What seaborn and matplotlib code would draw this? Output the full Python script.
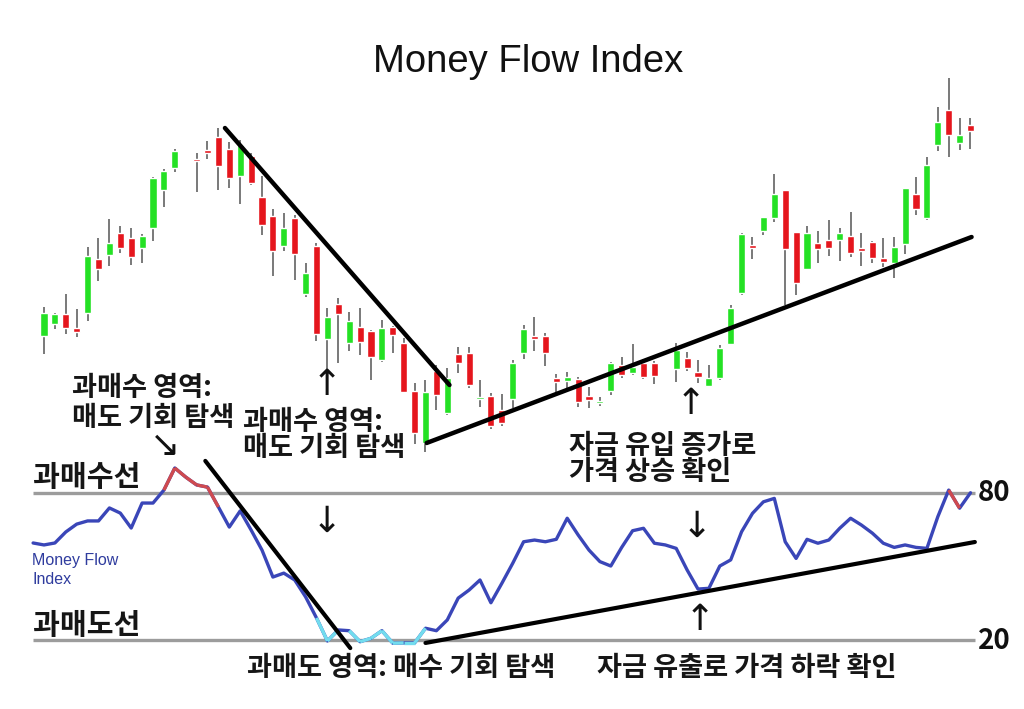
import numpy as np
import pandas as pd
import matplotlib
matplotlib.use('Agg')
import matplotlib.pyplot as plt
import seaborn as sns

nan = np.nan

# candle data (one slot per session, two empty slots)
candle_idx = list(range(86))
open_ = [164, 176, 186, 172, 187, 241, 245, 267, 262, 252, 272, 310, 332, nan, 341, 350, 363, 351, 324, 344,
         303, 284, 254, 282, 206, 254, 161, 196, 157, 173, 169, 140, 173, 157, 109, 57, 129, 87, 146, 147,
         101, 104, 90, 101, 147, 164, 164, 122, 119, 121, 104, 97, 109, 135, 127, 137, 137, nan, 131, 142,
         128, 114, 122, 156, 207, 255, 269, 282, 310, 268, 231, 257, 260, 260, 264, 252, 258, 242, 237, 256,
         306, 282, 355, 390, 357, 375]
high = [193, 187, 206, 191, 253, 262, 281, 274, 272, 266, 323, 331, 351, nan, 347, 359, 372, 358, 360, 347,
        324, 291, 287, 285, 237, 257, 192, 202, 188, 192, 170, 180, 174, 162, 117, 120, 135, 132, 153, 153,
        120, 107, 106, 140, 175, 183, 167, 126, 128, 123, 113, 103, 138, 143, 156, 141, 139, nan, 157, 148,
        140, 135, 155, 195, 267, 263, 283, 326, 310, 268, 274, 269, 280, 272, 288, 267, 259, 262, 263, 312,
        323, 343, 393, 422, 382, 382]
low = [146, 171, 166, 163, 179, 219, 234, 247, 235, 237, 259, 293, 328, nan, 308, 341, 310, 312, 296, 315,
       265, 224, 249, 220, 203, 159, 127, 137, 149, 145, 120, 138, 147, 107, 56, 48, 90, 85, 127, 112,
       93, 71, 74, 92, 141, 149, 134, 108, 110, 93, 92, 94, 105, 122, 125, 121, 116, nan, 118, 129,
       117, 113, 120, 155, 205, 241, 265, 278, 195, 205, 230, 237, 244, 239, 243, 234, 237, 233, 222, 246,
       285, 280, 349, 343, 350, 351]
close = [187, 186, 172, 168, 244, 231, 257, 252, 243, 264, 322, 329, 349, nan, 339, 347, 334, 322, 355, 317,
         275, 249, 272, 246, 227, 166, 183, 186, 179, 158, 143, 172, 165, 108, 67, 108, 105, 122, 137, 115,
         103, 74, 77, 137, 171, 161, 147, 118, 123, 98, 100, 99, 137, 125, 133, 123, 124, nan, 150, 132,
         123, 122, 152, 192, 266, 252, 283, 306, 251, 217, 267, 251, 252, 267, 247, 249, 242, 238, 253, 312,
         291, 335, 378, 365, 365, 369]

# money flow index
mfi_idx = list(range(-1, 86))
mfi = [59.6, 58.8, 59.6, 64.1, 67.3, 68.6, 68.6, 73.9, 71.8, 65.7, 75.9, 75.9, 81.2, 90.2, 86.5, 83.3,
       82.4, 74.3, 66.1, 72.7, 64.9, 56.7, 45.7, 47.3, 44.5, 37.6, 29.0, 19.6, 24.1, 23.8, 19.3, 20.7,
       23.8, 18.7, 18.8, 18.8, 24.8, 23.8, 28.2, 37.1, 40.4, 44.5, 35.2, 43.1, 51.3, 60.1, 60.8, 60.1,
       61.1, 69.7, 62.9, 56.7, 52.0, 50.2, 57.8, 64.6, 65.6, 59.5, 58.8, 57.4, 48.6, 40.8, 41.1, 50.2,
       52.7, 64.2, 71.7, 76.4, 77.8, 60.1, 53.3, 61.1, 59.5, 60.8, 65.6, 69.7, 66.9, 63.6, 59.5, 57.8,
       58.8, 57.8, 57.4, 70.3, 81.2, 73.8, 80.1]
overbought, oversold = 80, 20
level_span = [-1.0, 85.4]

# trend lines
price_down_x, price_down_y = [16.6, 37.2], [372, 115]
price_up_x, price_up_y = [35.1, 85.1], [57, 263]
mfi_down_x, mfi_down_y = [14.8, 28.1], [93.1, 16.7]
mfi_up_x, mfi_up_y = [35.0, 85.4], [18.8, 60.0]

sns.set_theme(style='white')
plt.rcParams['font.family'] = ['Noto Sans CJK KR', 'DejaVu Sans']

fig = plt.figure(figsize=(10.24, 7.09), dpi=100)
fig.patch.set_facecolor('white')
xlim = (-44 / 10.9, (1024 - 44) / 10.9)

# price panel
ax = fig.add_axes([0, 0, 1, 1])
ax.set_xlim(*xlim)
ax.set_ylim(-209, 500)
ax.axis('off')

df = pd.DataFrame({'idx': candle_idx, 'open': open_, 'high': high, 'low': low, 'close': close}).dropna()
rising = df['close'] >= df['open']
ax.vlines(df['idx'], df['low'], df['high'], color='#555555', lw=1.1, zorder=1)
ax.bar(df['idx'], (df['close'] - df['open']).abs().clip(lower=2.5),
       bottom=np.minimum(df['open'], df['close']), width=0.66,
       color=np.where(rising, '#24e124', '#e5161d'), zorder=2)
sns.lineplot(x=price_down_x, y=price_down_y, ax=ax, color='black', lw=3.2, zorder=3)
sns.lineplot(x=price_up_x, y=price_up_y, ax=ax, color='black', lw=3.2, zorder=3)

# MFI panel
ax2 = fig.add_axes([0, 0, 1, 1])
ax2.set_xlim(*xlim)
ax2.set_ylim(-8.16, 281.22)
ax2.axis('off')
ax2.hlines([overbought, oversold], level_span[0], level_span[1], color='#9c9c9c', lw=2.4, zorder=1)
sns.lineplot(x=mfi_idx, y=mfi, ax=ax2, color='#3a46b8', lw=2.4, zorder=2)
for k in range(len(mfi) - 1):
    seg_c = None
    if mfi[k] >= overbought:
        seg_c = '#cf4a4f'
    elif min(mfi[k], mfi[k + 1]) <= oversold + 1:
        seg_c = '#72dcee'
    if seg_c:
        ax2.plot(mfi_idx[k:k + 2], mfi[k:k + 2], color=seg_c, lw=2.4, zorder=3,
                 solid_capstyle='butt')
sns.lineplot(x=mfi_down_x, y=mfi_down_y, ax=ax2, color='black', lw=3.0, zorder=4)
sns.lineplot(x=mfi_up_x, y=mfi_up_y, ax=ax2, color='black', lw=3.0, zorder=4)

# text layer in pixel units
ax3 = fig.add_axes([0, 0, 1, 1])
ax3.set_xlim(0, 1024)
ax3.set_ylim(709, 0)
ax3.axis('off')

ax3.text(528, 62, 'Money Flow Index', fontsize=27.5, family=['Liberation Sans', 'DejaVu Sans'],
         ha='center', va='center', color='#111111')

kw = dict(fontsize=19.6, fontweight='bold', color='#161616', va='center', ha='left')
ax3.text(72, 388, '과매수 영역:', **kw)
ax3.text(72, 418, '매도 기회 탐색', **kw)
ax3.text(243, 422, '과매수 영역:', **kw)
ax3.text(243, 448, '매도 기회 탐색', **kw)
ax3.text(569, 446, '자금 유입 증가로', **kw)
ax3.text(569, 472, '가격 상승 확인', **kw)
ax3.text(247, 668, '과매도 영역: 매수 기회 탐색', **kw)
ax3.text(597, 668, '자금 유출로 가격 하락 확인', **kw)

side_kw = dict(kw, fontsize=21)
ax3.text(33, 477, '과매수선', **side_kw)
ax3.text(33, 625, '과매도선', **side_kw)

num_kw = dict(fontsize=20, fontweight='bold', color='#111111', va='center', ha='left')
ax3.text(978, 493, '80', **num_kw)
ax3.text(978, 641, '20', **num_kw)

ax3.text(32, 560, 'Money Flow', fontsize=11.5, color='#2f3c9e', va='center', ha='left',
         family=['Liberation Sans', 'DejaVu Sans'])
ax3.text(32, 580, 'Index', fontsize=11.5, color='#2f3c9e', va='center', ha='left',
         family=['Liberation Sans', 'DejaVu Sans'])

arrow_kw = dict(fontsize=26, color='#111111', ha='center', va='center', family=['DejaVu Sans'])
ax3.text(165, 446, '↘', **arrow_kw)
ax3.text(327, 385, '↑', **arrow_kw)
ax3.text(327, 522, '↓', **arrow_kw)
ax3.text(691, 404, '↑', **arrow_kw)
ax3.text(697, 527, '↓', **arrow_kw)
ax3.text(700, 620, '↑', **arrow_kw)

fig.savefig('out.png', dpi=100, facecolor='white')
